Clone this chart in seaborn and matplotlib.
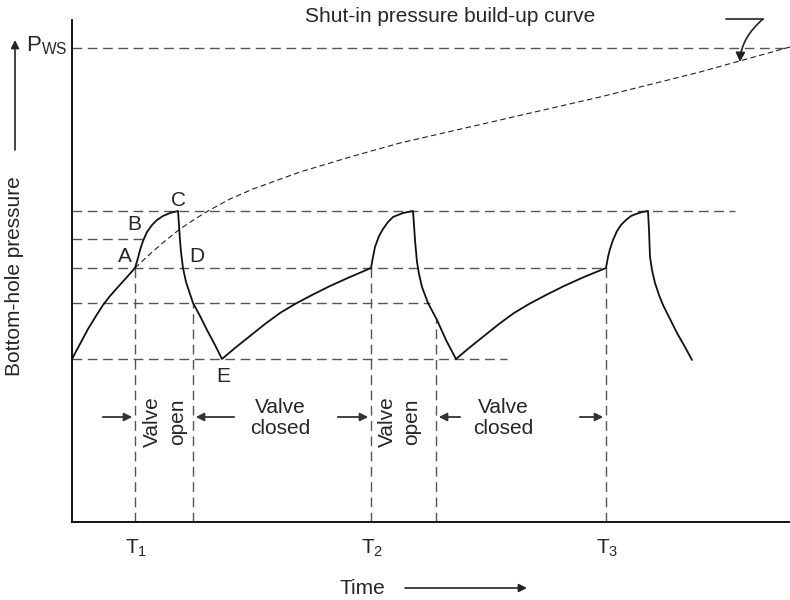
import matplotlib
matplotlib.use("Agg")
import matplotlib.pyplot as plt
from matplotlib.patches import FancyArrowPatch
from matplotlib.path import Path
import seaborn as sns
import pandas as pd

sns.set_style("white")
plt.rcParams["font.family"] = ["Liberation Sans", "DejaVu Sans"]
plt.rcParams["mathtext.fontset"] = "custom"
plt.rcParams["mathtext.rm"] = "Liberation Sans"
plt.rcParams["mathtext.it"] = "Liberation Sans"

# Bottom-hole pressure through three intermitting cycles (arbitrary units)
time = [0, 8, 16, 24, 31, 38, 46, 55, 63,
        66, 68, 71, 75, 80, 85, 91, 98, 106,
        107, 108, 109, 111, 114, 118, 121, 128, 135, 143, 150,
        163, 178, 193, 208, 223, 240, 258, 278, 299,
        301, 303, 307, 311, 316, 321, 326, 331, 336, 341,
        342, 343, 345, 347, 350, 353, 356, 365, 374, 384,
        397, 412, 427, 442, 457, 474, 492, 512, 534,
        536, 538, 541, 545, 549, 554, 559, 564, 570, 576,
        577, 578, 580, 583, 587, 591, 598, 605, 613, 620]
bhp = [163, 178, 193, 206, 217, 226, 235, 245, 254,
       264, 272, 281, 290, 297, 302, 306, 309, 311,
       297, 282, 270, 254, 240, 228, 219, 206, 192, 177, 163,
       174, 186, 198, 209, 218, 227, 236, 245, 254,
       265, 275, 286, 293, 300, 305, 307, 309, 310, 311,
       297, 282, 260, 248, 235, 227, 219, 202, 182, 163,
       174, 186, 198, 209, 218, 227, 236, 245, 254,
       265, 273, 282, 291, 297, 302, 306, 308, 310, 311,
       292, 265, 252, 239, 227, 217, 203, 189, 175, 162]

# Shut-in pressure build-up curve starting at point A
shutin_time = [63, 78, 93, 108, 123, 136, 158, 181, 228, 278, 328, 428, 528, 628, 718]
shutin_bhp = [254, 268, 281, 293, 303, 311, 323, 333, 350, 365, 379, 402, 425, 450, 475]

# Reference levels
p_ws = 474
p_c, p_b, p_a, p_d, p_e = 311, 283, 254, 219, 163
# Horizontal guide lines: (level, end time)
h_guides = [(p_ws, 718), (p_c, 663), (p_b, 71), (p_a, 535), (p_d, 358), (p_e, 435)]
# Vertical guide lines: (time, top level)
t1, t2, t3 = 63, 299, 534
open_end1, open_end2 = 121, 364
v_guides = [(t1, p_a), (open_end1, p_d), (t2, p_a), (open_end2, 202), (t3, p_a)]

tick_times = [t1, t2, t3]
tick_labels = [r"$\mathrm{T}_1$", r"$\mathrm{T}_2$", r"$\mathrm{T}_3$"]

point_labels = ["A", "B", "C", "D", "E"]
point_pos = [(53, 265), (62, 298), (107, 322), (125, 265), (151, 145)]

FS = 15
W, H = 790, 600
fig = plt.figure(figsize=(W / 100, H / 100), dpi=100)
ax = fig.add_axes([72 / W, (H - 522) / H, (W - 72) / W, (522 - 20) / H])
ax.set_xlim(0, 718)
ax.set_ylim(0, 502)

guide_kw = dict(color="#555555", lw=1.0, dashes=(7, 4))
for level, t_end in h_guides:
    ax.plot([0, t_end], [level, level], **guide_kw)
for t, top in v_guides:
    ax.plot([t, t], [0, top], **guide_kw)

sns.lineplot(x=shutin_time, y=shutin_bhp, sort=False, estimator=None, ax=ax,
             color="#222222", lw=0.8, dashes=False, linestyle=(0, (5, 3)))
df = pd.DataFrame({"time": time, "bhp": bhp})
sns.lineplot(data=df, x="time", y="bhp", sort=False, estimator=None, ax=ax,
             color="#111111", lw=1.3)

for lab, (x, y) in zip(point_labels, point_pos):
    ax.text(x, y, lab, fontsize=FS, ha="center", va="center")

# Valve open / closed annotations
arrow_y = 105
akw = dict(arrowstyle="-|>", color="#333333", lw=1.3, mutation_scale=12)
for start, tip in [(28, t1), (165, open_end1), (263, t2), (391, open_end2), (505, t3)]:
    ax.annotate("", xy=(tip, arrow_y), xytext=(start, arrow_y), arrowprops=akw)
for x, s in [(80, "Valve"), (106, "open"), (315, "Valve"), (340, "open")]:
    ax.text(x, 100, s, rotation=90, fontsize=FS, ha="center", va="center")
for x in [208, 431]:
    ax.text(x, 104, "Valve\nclosed", fontsize=FS, ha="center", va="center",
            linespacing=1.1)

# Axes styling
sns.despine(ax=ax)
for side in ["left", "bottom"]:
    ax.spines[side].set_color("black")
    ax.spines[side].set_linewidth(1.3)
ax.set_xticks([])
ax.set_yticks([])
ax.set_xlabel("")
ax.set_ylabel("")
for t, lab in zip(tick_times, tick_labels):
    ax.text(t + 1, -26, lab, fontsize=FS, ha="center", va="center", clip_on=False)

# Hooked pointer to the shut-in curve
ax.plot([654, 691], [503, 503], color="#222222", lw=1.2, clip_on=False)
hook = Path([(691, 503), (669, 484), (668, 460)],
            [Path.MOVETO, Path.CURVE3, Path.CURVE3])
hook_arrow = FancyArrowPatch(path=hook, arrowstyle="-|>", color="#222222", lw=1.2,
                             mutation_scale=14, transform=ax.transData)
hook_arrow.set_clip_on(False)
ax.add_patch(hook_arrow)

# Figure-level labels
fig.text(450 / W, 1 - 16 / H, "Shut-in pressure build-up curve", fontsize=FS,
         ha="center", va="center")
fig.text(26 / W, 1 - 46 / H, r"$\mathrm{P}_{\mathrm{WS}}$", fontsize=16,
         ha="left", va="center")
fig.text(15 / W, 1 - 276 / H, "Bottom-hole pressure", fontsize=FS, rotation=90,
         ha="center", va="center")
fig.text(362 / W, 1 - 588 / H, "Time", fontsize=FS, ha="center", va="center")
fig.patches.append(FancyArrowPatch(
    (15 / W, 1 - 150 / H), (15 / W, 1 - 40 / H), transform=fig.transFigure,
    arrowstyle="-|>", color="#222222", lw=1.2, mutation_scale=12, shrinkA=0, shrinkB=0))
fig.patches.append(FancyArrowPatch(
    (405 / W, 1 - 588 / H), (527 / W, 1 - 588 / H), transform=fig.transFigure,
    arrowstyle="-|>", color="#222222", lw=1.2, mutation_scale=12, shrinkA=0, shrinkB=0))

fig.savefig("out.png", dpi=100)
